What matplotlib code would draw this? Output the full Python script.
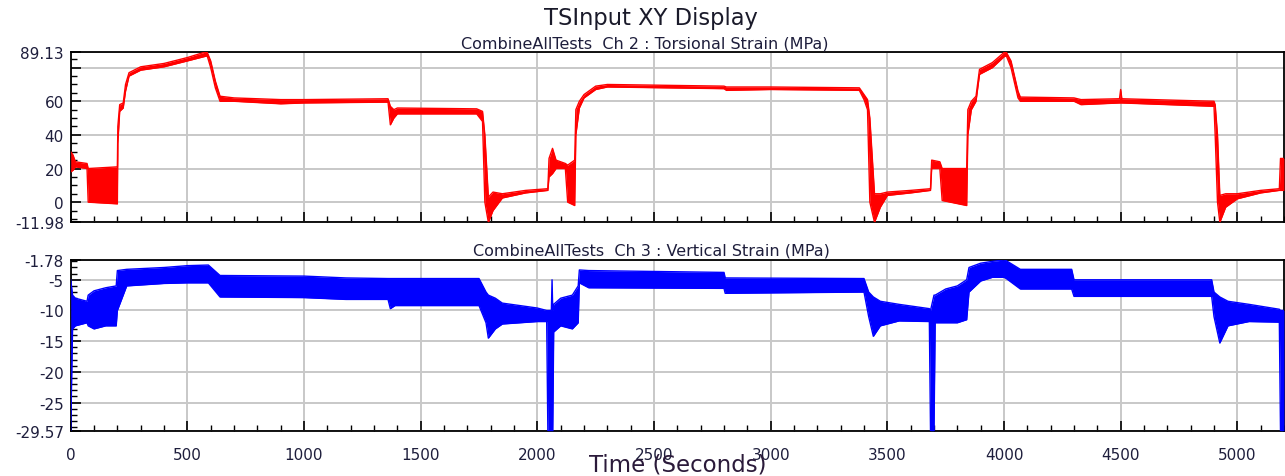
import matplotlib
matplotlib.use("Agg")
import matplotlib.pyplot as plt
from matplotlib.ticker import MultipleLocator, FixedLocator

# ---------------- data ----------------
# Ch 2 : Torsional Strain (MPa) -- time, lower and upper envelope of the trace
torsion_t = [0, 10, 20, 70, 75, 200, 202, 210, 225, 235, 250, 300, 400, 500, 570, 585,
             600, 620, 640, 700, 900, 1000, 1360, 1370, 1385, 1400, 1740, 1765, 1775,
             1790, 1810, 1850, 1950, 2045, 2050, 2065, 2080, 2120, 2130, 2160, 2165,
             2180, 2200, 2250, 2300, 2800, 2810, 3000, 3380, 3400, 3415, 3425, 3445,
             3470, 3500, 3600, 3685, 3690, 3725, 3735, 3840, 3845, 3860, 3880, 3895,
             3950, 4000, 4010, 4030, 4060, 4070, 4300, 4330, 4495, 4500, 4505, 4900,
             4905, 4915, 4925, 4950, 5000, 5100, 5180, 5185, 5200]
torsion_lo = [18, 19, 21, 20, 0, -1, 35, 54, 56, 66, 75, 78.5, 80.5, 84, 86.5, 87,
              80, 68, 60, 60, 58.5, 59, 59.5, 46, 50, 52.5, 52.5, 48, 0,
              -11.98, -5, 2.5, 5.5, 7, 15, 17, 20, 20, 0, -2, 40,
              56, 62, 67, 68.5, 67.5, 66.5, 67, 66.5, 61, 55, 0, -11.98,
              -3, 4, 5.5, 7, 20, 20, 1, -2, 40, 55, 60, 76,
              80, 86.5, 87, 80, 62, 60, 60, 58, 59, 59, 59, 57,
              40, 0, -11.98, -3, 2, 5.5, 7, 7, 7]
torsion_hi = [30, 28, 24, 23, 20, 21, 45, 58, 59, 70, 77, 80.5, 82.5, 86, 89, 89.13,
              84, 72, 63, 62, 61, 61, 61.5, 57, 55, 56, 55.5, 54, 40,
              3, 6, 5, 7, 8, 26, 32, 25, 23, 22, 25, 55,
              60, 64, 69, 70, 69, 68.5, 68.5, 68, 64, 61, 50, 5,
              5, 6, 7, 8, 25, 24, 20, 20, 55, 60, 63, 79,
              83, 89, 89.13, 84, 66, 62.5, 62, 61, 61.5, 67, 61.5, 60,
              58, 40, 4, 5, 5, 7, 8, 26, 26]

# Ch 3 : Vertical Strain (MPa) -- time, lower and upper envelope of the trace
vertical_t = [0, 8, 20, 70, 75, 100, 150, 195, 200, 240, 400, 500, 590, 640, 1000,
              1180, 1360, 1370, 1390, 1750, 1780, 1790, 1820, 1850, 2000, 2040, 2045,
              2060, 2063, 2066, 2070, 2100, 2150, 2175, 2180, 2220, 2800, 2805, 3400,
              3420, 3440, 3470, 3550, 3680, 3685, 3700, 3705, 3750, 3800, 3840, 3850,
              3900, 3950, 4000, 4010, 4070, 4290, 4300, 4890, 4900, 4925, 4960, 5050,
              5180, 5185, 5200]
vertical_lo = [-29.57, -13, -12.5, -12, -12.5, -13, -12.5, -12.5, -10, -6, -5.6, -5.5,
               -5.5, -7.8, -7.9, -8.2, -8.2, -9.7, -9.2, -9.2, -12, -14.5, -13, -12.2,
               -11.8, -11.8, -29.57, -29.57, -29.57, -29.57, -13.5, -12.5, -13, -12,
               -5.5, -6.3, -6.4, -7.2, -7.0, -11, -14.2, -12.5, -11.7, -11.8, -29.57,
               -29.57, -12, -12, -12, -11.5, -7, -5.2, -4.6, -4.6, -4.8, -6.5, -6.5,
               -7.7, -7.7, -11, -15.3, -12.5, -11.8, -11.9, -29.57, -29.57]
vertical_hi = [-5, -7.5, -8, -8.5, -7.5, -6.8, -6.3, -6, -3.5, -3.3, -3.0, -2.7,
               -2.6, -4.3, -4.4, -4.7, -4.8, -4.8, -4.8, -4.8, -7, -7.5, -8, -8.8,
               -9.6, -10, -10, -10, -5, -10, -9, -8, -7.5, -6,
               -3.4, -3.5, -3.8, -4.7, -4.8, -7, -7.8, -8.5, -9, -9.7, -10,
               -7.5, -7.5, -6.5, -6, -5, -3, -2.3, -2, -1.78, -1.9, -3.3, -3.3,
               -5.0, -5.0, -7, -7.8, -8.5, -9, -9.8, -10, -10]

x_ticks = [0, 500, 1000, 1500, 2000, 2500, 3000, 3500, 4000, 4500, 5000]
x_limits = (0, 5200)
top_yticks = [-11.98, 0, 20, 40, 60, 80, 89.13]
top_ylabels = ["-11.98", "0", "20", "40", "60", "", "89.13"]
bot_yticks = [-29.57, -25, -20, -15, -10, -5, -1.78]
bot_ylabels = ["-29.57", "-25", "-20", "-15", "-10", "-5", "-1.78"]

title = "TSInput XY Display"
top_sub = "CombineAllTests  Ch 2 : Torsional Strain (MPa)"
bot_sub = "CombineAllTests  Ch 3 : Vertical Strain (MPa)"
x_label = "Time (Seconds)"

# ---------------- figure ----------------
plt.rcParams["font.family"] = ["DejaVu Sans"]
W, H = 1285, 477
fig = plt.figure(figsize=(W / 100, H / 100), dpi=100)
fig.patch.set_facecolor("white")

def px_axes(x0, y0, x1, y1):
    return fig.add_axes([x0 / W, 1 - y1 / H, (x1 - x0) / W, (y1 - y0) / H])

ax1 = px_axes(70.7, 53.3, 1284, 223.3)
ax2 = px_axes(70.7, 261, 1284, 431.7)

label_color = "#1e1e3c"

def style(ax, yticks, ylabels, ylim, yminor, show_x):
    ax.set_xlim(*x_limits)
    ax.set_ylim(*ylim)
    ax.xaxis.set_major_locator(FixedLocator(x_ticks))
    ax.xaxis.set_minor_locator(MultipleLocator(100))
    ax.yaxis.set_major_locator(FixedLocator(yticks))
    ax.set_yticklabels(ylabels)
    ax.yaxis.set_minor_locator(MultipleLocator(yminor))
    ax.grid(True, which="major", color="#c8c8c8", linewidth=1.4, zorder=0)
    ax.set_axisbelow(True)
    ax.tick_params(axis="both", which="major", direction="in", length=7, width=1.2,
                   color="black", labelsize=11, labelcolor=label_color, pad=5)
    ax.tick_params(axis="both", which="minor", direction="in", length=4, width=1.0,
                   color="black")
    ax.tick_params(axis="x", labelbottom=show_x)
    for s in ax.spines.values():
        s.set_linewidth(1.3)
        s.set_color("black")

ax1.fill_between(torsion_t, torsion_lo, torsion_hi, color="#ff0000", linewidth=0, zorder=3)
ax1.plot(torsion_t, torsion_lo, color="#ff0000", linewidth=1.0, zorder=3)
ax1.plot(torsion_t, torsion_hi, color="#ff0000", linewidth=1.0, zorder=3)
style(ax1, top_yticks, top_ylabels, (-11.98, 89.13), 5, False)

ax2.fill_between(vertical_t, vertical_lo, vertical_hi, color="#0000ff", linewidth=0, zorder=3)
ax2.plot(vertical_t, vertical_lo, color="#0000ff", linewidth=1.0, zorder=3)
ax2.plot(vertical_t, vertical_hi, color="#0000ff", linewidth=1.0, zorder=3)
style(ax2, bot_yticks, bot_ylabels, (-29.57, -1.78), 1, True)
ax2.set_xticklabels([str(v) for v in x_ticks])
ax2.tick_params(axis="x", which="major", pad=12)

fig.text(651 / W, 1 - 18 / H, title, ha="center", va="center", fontsize=16.3,
         color="#1a1a2a")
fig.text(645 / W, 1 - 44 / H, top_sub, ha="center", va="center", fontsize=11.5,
         color=label_color)
fig.text(651 / W, 1 - 251 / H, bot_sub, ha="center", va="center", fontsize=11.5,
         color=label_color)
fig.text(678 / W, 1 - 465 / H, x_label, ha="center", va="center", fontsize=16.5,
         color="#2b1a3a")

fig.savefig("out.png", dpi=100, facecolor="white")
